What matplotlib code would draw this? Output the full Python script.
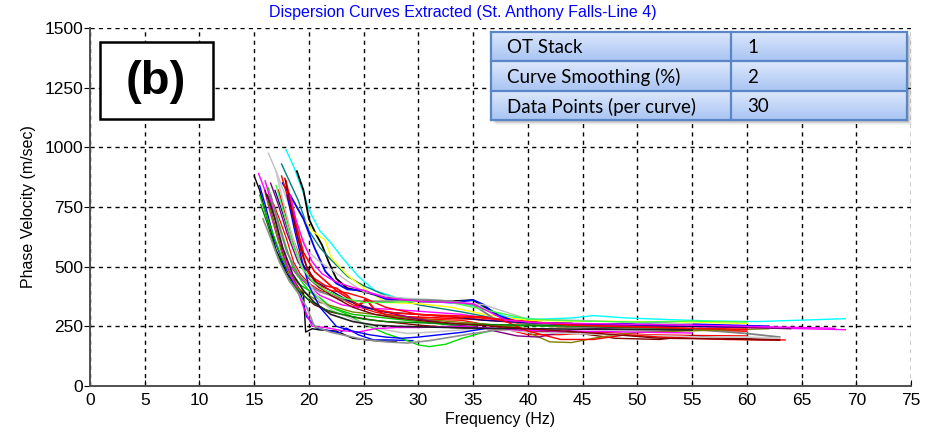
import numpy as np
import matplotlib
matplotlib.use('Agg')
import matplotlib.pyplot as plt
from matplotlib.patches import Rectangle

plt.rcParams['font.family'] = ['Liberation Sans', 'DejaVu Sans']

title = 'Dispersion Curves Extracted (St. Anthony Falls-Line 4)'
x_ticks = list(range(0, 80, 5))
y_ticks = list(range(0, 1750, 250))

table_labels = ['OT Stack', 'Curve Smoothing (%)', 'Data Points (per curve)']
table_values = ['1', '2', '30']

curve_colors = [
    'cyan', 'black', '#008080', '#ffff00', '#0000ff', '#c0c0c0', '#ff0000', '#ff0000',
    '#ff00ff', 'black', '#0000ff', '#00c000', '#00e000', '#808080', '#800000', '#808000',
    '#800080', '#000080', '#c8c8c8', '#ff00ff', '#ff0000', '#008000', '#0000ff', '#909090',
    '#ff0000', '#202020', '#800000', '#40ff40', '#ff00ff',
]

curve_widths = [
    1.0, 1.3, 1.0, 1.0, 1.3, 1.0, 1.2, 0.9,
    1.0, 1.0, 1.0, 1.0, 1.0, 1.3, 1.0, 1.0,
    1.0, 0.9, 1.2, 1.0, 1.0, 1.0, 1.0, 1.2,
    1.2, 1.2, 1.0, 1.0, 1.0,
]

curve_freqs = [
    [17.9, 18.6, 19.4, 20.2, 21.0, 22.0, 23.0, 24.5, 26, 28, 31, 34, 36, 38, 41, 44, 46, 49, 53, 57, 61, 65, 69],
    [18.9, 19.5, 20.0, 20.6, 21.2, 21.8, 22.5, 23.5, 25, 27, 30, 33, 35, 36.5, 38, 41, 44],
    [17.5, 18.2, 19, 20, 21, 22, 23.5, 25, 27, 30, 34, 38, 42, 47, 50],
    [17.6, 18.3, 19.2, 20.3, 21.5, 22, 23.5, 25, 27, 30, 33, 36, 40, 45, 50, 55, 60],
    [17.6, 18.4, 19.5, 20.5, 21.5, 22.5, 23.5, 25, 27, 30, 33, 35, 36, 37, 39, 42, 46, 50, 54, 58, 62],
    [16.3, 17, 18, 19, 20, 21, 22, 23.5, 25, 28, 32, 36, 40, 45, 50, 55],
    [17.2, 17.6, 18.0, 18.5, 19, 19.5, 20.5, 21.5, 22.5, 23.5, 24.5, 25.2, 26, 27, 29, 32, 35, 38, 42, 46, 50, 55, 60],
    [16.8, 17.3, 18, 18.6, 19.2, 20, 21, 22, 24, 26, 28, 31, 34, 37, 40, 43, 47, 51, 55, 60],
    [15.4, 15.9, 16.5, 17.2, 18, 19, 20, 21, 22, 23, 24.5, 26, 28, 31, 34, 36, 38, 42, 46, 50, 55, 60, 65, 69],
    [15.0, 15.5, 16.2, 17, 18, 18.8, 19.5, 19.7, 20.3, 21, 22.5, 24, 26, 28],
    [15.5, 16, 16.8, 17.6, 18.5, 19.3, 19.8, 20.7, 22.8, 23.4, 24.5, 25.9, 27.4, 29.5],
    [15.5, 16, 16.7, 17.5, 18.3, 19, 20, 21, 22, 24, 26, 28, 30, 32, 34, 36, 38, 42, 46, 50, 54],
    [16.3, 17, 17.8, 18.5, 19.3, 20, 21, 22, 23.5, 25, 27, 29, 30, 31, 32.5, 34, 36, 38, 40],
    [16.5, 17.2, 18, 19, 20, 21, 22, 23, 25, 27, 29, 31, 33, 35, 37, 40, 45, 50, 55, 60, 63],
    [16.0, 16.6, 17.3, 18, 18.8, 19.5, 20.5, 22, 24, 26, 28, 30, 33, 36, 40, 44, 48, 52, 55, 58, 63],
    [16.2, 16.8, 17.5, 18.2, 19, 20, 21, 22.5, 24, 26, 28, 30, 33, 36, 39, 42, 44, 46, 48, 50, 54, 58, 62],
    [16.5, 17.2, 18, 19, 20, 21, 22.5, 24, 26, 28, 30, 33, 36, 39, 41, 44, 48, 52, 56, 60, 64],
    [16.9, 17.5, 18.3, 19.3, 20.5, 22, 23.5, 25, 27, 30, 33, 36, 40, 45, 50, 55, 60],
    [17.0, 17.6, 18.4, 19.2, 20, 21, 22, 23.5, 25, 27, 29, 31, 34, 37, 40, 44, 48, 52, 56, 60, 63],
    [16.0, 16.6, 17.3, 18, 18.8, 19.5, 20.3, 21.5, 23, 24.5, 26, 28, 30, 33, 36, 39, 43, 47, 51, 55],
    [17.5, 18, 18.6, 19.3, 20, 21, 22, 23.5, 25, 27, 30, 33, 36, 38, 40, 43, 46, 49, 52, 55, 58, 61, 63.5],
    [15.6, 16.2, 17, 18, 19, 20, 21.5, 23, 25, 27, 30, 33, 36, 40, 45, 50, 55, 58],
    [18.0, 18.7, 19.4, 20, 21, 22.5, 24, 25.5, 27, 28.5, 30, 32, 34, 36],
    [15.8, 16.5, 17.3, 18.2, 19, 19.8, 20.5, 22, 23.5, 25, 27, 29, 31, 33, 35, 38],
    [17.9, 18.3, 18.8, 19.5, 20.5, 21.5, 22.5, 23.5, 24.5, 25.3, 26, 28, 30, 33, 36, 40, 44, 48, 52, 56, 60],
    [16.2, 16.9, 17.6, 18.5, 19.5, 20.5, 22, 24, 26, 28, 30, 33, 36, 40, 45, 50, 55],
    [17.8, 18.3, 19, 19.8, 20.8, 22, 24, 26, 28, 31, 34, 37, 40, 44, 48, 52, 56, 60, 63],
    [17.0, 17.6, 18.4, 19.3, 20.3, 21.5, 23, 25, 27, 30, 33, 36, 40, 45, 50, 55, 60],
    [18.3, 18.8, 19.5, 20.3, 21.2, 22.3, 23.5, 25, 27, 30, 33, 35, 36.5, 38, 41, 45, 50, 55, 60, 65, 68],
]

curve_vels = [
    [990, 920, 820, 720, 650, 600, 540, 460, 400, 370, 355, 345, 330, 290, 280, 285, 295, 285, 278, 272, 270, 276, 282],
    [900, 820, 700, 640, 590, 520, 450, 410, 395, 370, 355, 355, 360, 320, 275, 265, 262],
    [930, 860, 780, 650, 580, 530, 460, 420, 380, 340, 310, 275, 262, 255, 250],
    [860, 790, 720, 650, 610, 540, 465, 410, 350, 345, 330, 300, 275, 272, 270, 268, 262],
    [850, 790, 700, 580, 480, 430, 405, 400, 365, 355, 350, 360, 340, 300, 270, 260, 255, 265, 260, 255, 250],
    [975, 900, 780, 660, 560, 520, 490, 440, 395, 370, 360, 340, 280, 275, 265, 260],
    [820, 760, 700, 620, 560, 500, 450, 420, 410, 380, 330, 365, 320, 300, 290, 285, 280, 270, 250, 245, 240, 235, 230],
    [760, 700, 610, 520, 470, 430, 400, 390, 340, 310, 290, 280, 275, 250, 215, 215, 225, 215, 212, 210],
    [890, 830, 720, 610, 520, 460, 420, 380, 360, 340, 330, 325, 320, 310, 300, 285, 270, 262, 258, 252, 250, 245, 240, 236],
    [880, 820, 700, 570, 470, 420, 390, 226, 240, 235, 230, 200, 190, 185],
    [840, 760, 620, 520, 440, 380, 290, 243, 222, 243, 215, 193, 193, 190],
    [800, 730, 640, 540, 470, 430, 400, 360, 330, 300, 290, 280, 270, 260, 250, 255, 255, 250, 245, 240, 235],
    [830, 720, 600, 500, 440, 400, 370, 330, 300, 260, 220, 190, 172, 165, 175, 200, 225, 245, 255],
    [800, 680, 560, 470, 420, 395, 380, 360, 355, 355, 360, 360, 355, 340, 280, 260, 245, 240, 238, 220, 205],
    [820, 720, 600, 500, 430, 380, 340, 310, 290, 275, 265, 255, 245, 240, 230, 225, 200, 195, 210, 200, 195],
    [780, 680, 560, 470, 410, 380, 350, 330, 310, 300, 290, 280, 270, 260, 245, 185, 182, 200, 215, 225, 230, 235, 240],
    [850, 760, 640, 520, 450, 410, 380, 350, 320, 300, 280, 260, 240, 210, 205, 235, 245, 250, 248, 245, 240],
    [820, 740, 620, 520, 440, 400, 360, 330, 310, 300, 290, 275, 265, 260, 255, 250, 248],
    [900, 780, 640, 520, 430, 360, 320, 290, 260, 235, 220, 225, 235, 240, 225, 220, 215, 210, 205, 205, 200],
    [860, 760, 620, 510, 420, 330, 250, 245, 232, 226, 240, 245, 245, 250, 245, 235, 230, 228, 225, 222],
    [880, 800, 690, 560, 470, 420, 400, 390, 370, 330, 300, 295, 290, 270, 230, 195, 195, 215, 205, 200, 195, 193, 193],
    [760, 680, 560, 460, 400, 360, 320, 300, 280, 270, 265, 260, 258, 255, 250, 245, 240, 238],
    [800, 650, 520, 420, 330, 250, 230, 215, 205, 200, 205, 215, 225, 240],
    [700, 620, 520, 440, 390, 330, 250, 225, 210, 195, 185, 180, 190, 205, 220, 240],
    [860, 780, 680, 560, 480, 440, 400, 370, 340, 360, 320, 305, 300, 290, 285, 270, 255, 250, 245, 240, 238],
    [800, 700, 580, 470, 400, 350, 300, 270, 255, 250, 248, 245, 242, 240, 238, 236, 235],
    [870, 760, 620, 500, 420, 380, 330, 300, 285, 270, 260, 250, 240, 228, 215, 200, 198, 195, 192],
    [840, 740, 610, 500, 440, 400, 370, 350, 350, 355, 350, 320, 280, 272, 268, 272, 268],
    [800, 700, 600, 520, 470, 440, 420, 400, 370, 355, 350, 345, 310, 275, 265, 262, 258, 255, 250, 245, 242],
]

W, H = 927, 436
fig = plt.figure(figsize=(W / 100, H / 100), dpi=100)
ax = fig.add_axes([90 / W, 1 - 386 / H, 821 / W, 358 / H])

for c, lw, f, v in zip(curve_colors, curve_widths, curve_freqs, curve_vels):
    ax.plot(f, v, color=c, lw=lw, zorder=3)

ax.set_xlim(0, 75)
ax.set_ylim(0, 1500)
ax.set_xticks(x_ticks)
ax.set_yticks(y_ticks)
ax.grid(True, color='black', linestyle=(0, (3, 3)), linewidth=1.0)
for s in ['top', 'right']:
    ax.spines[s].set_visible(False)
for s in ['left', 'bottom']:
    ax.spines[s].set_color('#505050')
    ax.spines[s].set_linewidth(1.4)
ax.tick_params(axis='y', direction='out', length=4, labelsize=12.5, pad=1)
ax.tick_params(axis='x', direction='in', length=4, labelsize=12.5, pad=5)
ax.set_xlabel('Frequency (Hz)', fontsize=11.5, labelpad=3)
ax.set_ylabel('Phase Velocity (m/sec)', fontsize=11.5, labelpad=6)
fig.text(463 / W, 1 - 12 / H, title, color='#0000ff', fontsize=11.5,
         ha='center', va='center')

# overlay in pixel coords for the (b) box and the parameter table
ov = fig.add_axes([0, 0, 1, 1], zorder=5)
ov.set_xlim(0, W)
ov.set_ylim(H, 0)
ov.axis('off')
ov.patch.set_alpha(0)

ov.add_patch(Rectangle((100, 42), 113, 77, facecolor='white', edgecolor='black', lw=1.8))
ov.text(156, 82, '(b)', fontsize=34, fontweight='bold', ha='center', va='center')

tx0, tx1, tsplit = 491, 907, 731
row_y = [32, 61.5, 91, 120]
for k in range(6, 0, -1):
    ov.add_patch(Rectangle((tx0 + 1 + k * 0.6, row_y[0] + 1 + k * 0.6), tx1 - tx0, row_y[-1] - row_y[0],
                           facecolor='#404040', edgecolor='none', alpha=0.06))
grad = np.linspace(0, 1, 64).reshape(-1, 1)
top_c = np.array([0.87, 0.91, 0.99])
bot_c = np.array([0.66, 0.77, 0.95])
img = top_c[None, None, :] * (1 - grad[:, :, None]) + bot_c[None, None, :] * grad[:, :, None]
for i in range(3):
    ov.imshow(img, extent=(tx0, tx1, row_y[i + 1], row_y[i]), aspect='auto', zorder=2)
    ov.text(507, (row_y[i] + row_y[i + 1]) / 2 + 1, table_labels[i], fontsize=13.5,
            family=['Lato', 'DejaVu Sans'], va='center', ha='left', zorder=4)
    ov.text(747, (row_y[i] + row_y[i + 1]) / 2 + 1, table_values[i], fontsize=13.5,
            family=['Lato', 'DejaVu Sans'], va='center', ha='left', zorder=4)
edge = '#5b86c6'
for y in row_y:
    ov.plot([tx0, tx1], [y, y], color=edge, lw=1.6, zorder=3)
for x in [tx0, tsplit, tx1]:
    ov.plot([x, x], [row_y[0], row_y[-1]], color=edge, lw=1.6, zorder=3)
ov.set_xlim(0, W)
ov.set_ylim(H, 0)

fig.savefig('out.png', dpi=100)
